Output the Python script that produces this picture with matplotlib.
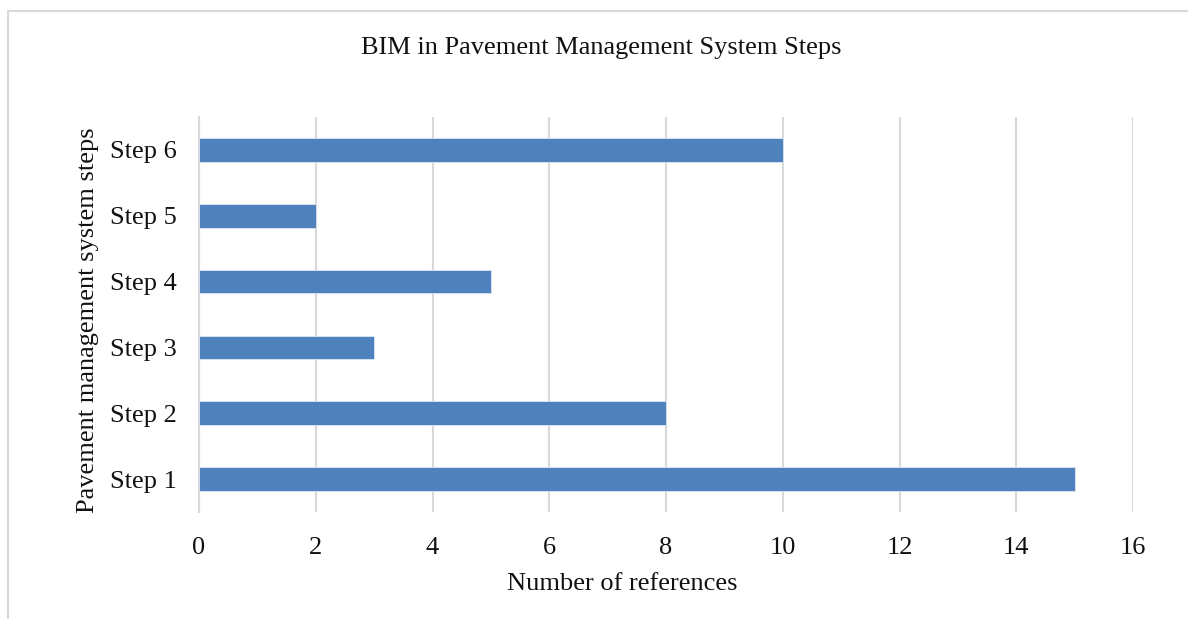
import matplotlib
matplotlib.use("Agg")
import matplotlib.pyplot as plt
from matplotlib.lines import Line2D

# Data
steps = ["Step 1", "Step 2", "Step 3", "Step 4", "Step 5", "Step 6"]
references = [15, 8, 3, 5, 2, 10]
x_ticks = [0, 2, 4, 6, 8, 10, 12, 14, 16]

title = "BIM in Pavement Management System Steps"
x_label = "Number of references"
y_label = "Pavement management system steps"

plt.rcParams["font.family"] = ["Liberation Serif", "DejaVu Serif"]

W, H = 1188, 619
x0, x1, y_top, y_bot = 199, 1133, 117, 512
fig = plt.figure(figsize=(W / 100, H / 100), dpi=100)
ax = fig.add_axes([x0 / W, 1 - y_bot / H, (x1 - x0) / W, (y_bot - y_top) / H])

ax.barh(range(len(steps)), references, height=0.36, color="#4f81bd",
        edgecolor="#dce6f2", linewidth=0.6, zorder=3)

ax.set_xlim(0, 16)
ax.set_ylim(-0.5, len(steps) - 0.5)
ax.set_xticks(x_ticks)
ax.set_xticklabels([str(t) for t in x_ticks], fontsize=19)
ax.set_yticks(range(len(steps)))
ax.set_yticklabels(steps, fontsize=19)
ax.tick_params(axis="both", length=0, colors="#111111")
ax.tick_params(axis="x", pad=18)
ax.tick_params(axis="y", pad=16)

ax.grid(axis="x", color="#d9d9d9", linewidth=1.5, zorder=0)
ax.grid(axis="y", visible=False)
for side in ["top", "right", "bottom"]:
    ax.spines[side].set_visible(False)
ax.spines["left"].set_color("#d9d9d9")
ax.spines["left"].set_linewidth(1.5)

ax.set_xlabel(x_label, fontsize=19, color="#111111", va="center")
ax.xaxis.set_label_coords((622 - x0) / (x1 - x0), (y_bot - 584) / (y_bot - y_top))
ax.set_ylabel(y_label, fontsize=19, color="#111111", va="center")
ax.yaxis.set_label_coords((88 - x0) / (x1 - x0), (y_bot - 320) / (y_bot - y_top))

fig.text(601 / W, 1 - 48 / H, title, ha="center", va="center",
         fontsize=19, color="#111111")

# Chart frame (top and left edges)
fig.add_artist(Line2D([8 / W, 1.0], [1 - 11 / H, 1 - 11 / H],
                      color="#d9d9d9", linewidth=1.5))
fig.add_artist(Line2D([8 / W, 8 / W], [0.0, 1 - 11 / H],
                      color="#d9d9d9", linewidth=1.5))

fig.savefig("out.png", dpi=100, facecolor="white")
